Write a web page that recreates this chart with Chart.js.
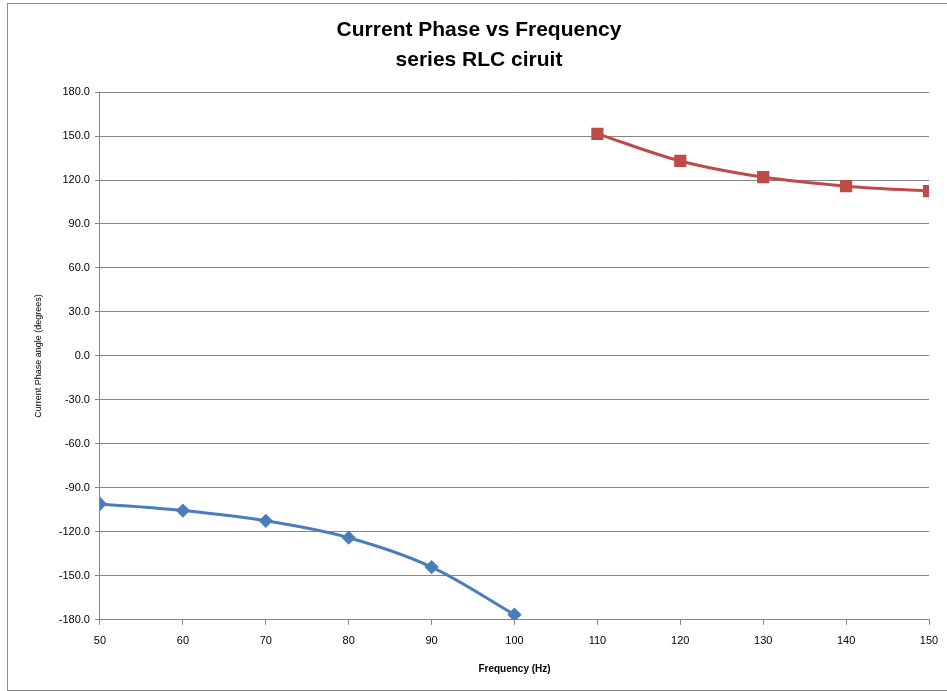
<!DOCTYPE html>
<html lang="en">
<head>
    <meta charset="UTF-8">
    <title>Current Phase vs Frequency</title>
    <style>
        body { margin: 0; background: #fff; }
        #frame { position: absolute; left: 7px; top: 3px; width: 945px; height: 686px; border: 1px solid #8c8c8c; }
        #chart-container { width: 945px; height: 686px; }
    </style>
    <script src="https://cdn.jsdelivr.net/npm/chart.js"></script>
</head>
<body>
    <div id="frame">
        <div id="chart-container">
            <canvas id="phaseChart"></canvas>
        </div>
    </div>
    <script>
        // below resonance
        const freqLow = [50, 60, 70, 80, 90, 100];
        const phaseLow = [-101, -105.5, -112.5, -124, -144, -176.5];
        // above resonance
        const freqHigh = [110, 120, 130, 140, 150];
        const phaseHigh = [151.5, 133, 122, 115.8, 112.4];

        const yTicks = [-180, -150, -120, -90, -60, -30, 0, 30, 60, 90, 120, 150, 180];

        const font = "'Liberation Sans', Arial, sans-serif";

        const toPoints = (xs, ys) => xs.map((x, i) => ({ x: x, y: ys[i] }));

        new Chart(document.getElementById('phaseChart'), {
            type: 'line',
            data: {
                datasets: [{
                    label: 'below',
                    data: toPoints(freqLow, phaseLow),
                    borderColor: '#4a7ebb',
                    backgroundColor: '#4a7ebb',
                    borderWidth: 3,
                    pointStyle: 'rectRot',
                    pointRadius: 5,
                    tension: 0.35
                }, {
                    label: 'above',
                    data: toPoints(freqHigh, phaseHigh),
                    borderColor: '#be4b48',
                    backgroundColor: '#be4b48',
                    borderWidth: 3,
                    pointStyle: 'rect',
                    pointRadius: 6.5,
                    tension: 0.35
                }]
            },
            options: {
                responsive: true,
                maintainAspectRatio: false,
                animation: false,
                layout: { padding: { left: 21, right: 24, top: 0, bottom: 11 } },
                plugins: {
                    legend: { display: false },
                    tooltip: { enabled: false },
                    title: {
                        display: true,
                        text: ['Current Phase vs Frequency', 'series RLC ciruit'],
                        color: '#000',
                        font: { family: "'Liberation Sans Narrow', 'Liberation Sans', sans-serif", size: 21, weight: 'bold', lineHeight: 1.43 },
                        padding: { top: 11, bottom: 17 }
                    }
                },
                scales: {
                    x: {
                        type: 'linear',
                        min: 50,
                        max: 150,
                        ticks: { stepSize: 10, color: '#000', font: { family: font, size: 11 }, padding: 10 },
                        grid: { display: true, drawOnChartArea: false, drawTicks: true, tickLength: 5, color: '#868686' },
                        border: { color: '#868686', width: 1 },
                        title: { display: true, text: 'Frequency (Hz)', color: '#000', font: { family: font, size: 10, weight: 'bold' }, padding: { top: 5 } }
                    },
                    y: {
                        min: -180,
                        max: 180,
                        afterBuildTicks: axis => { axis.ticks = yTicks.map(v => ({ value: v })); },
                        ticks: {
                            color: '#000',
                            font: { family: font, size: 11 },
                            padding: 5,
                            callback: v => v.toFixed(1)
                        },
                        grid: { color: '#868686', lineWidth: 1, tickLength: 5 },
                        border: { color: '#868686', width: 1 },
                        title: { display: true, text: 'Current Phase angle (degrees)', color: '#000', font: { family: font, size: 9 }, padding: { bottom: 10 } }
                    }
                }
            }
        });
    </script>
</body>
</html>
